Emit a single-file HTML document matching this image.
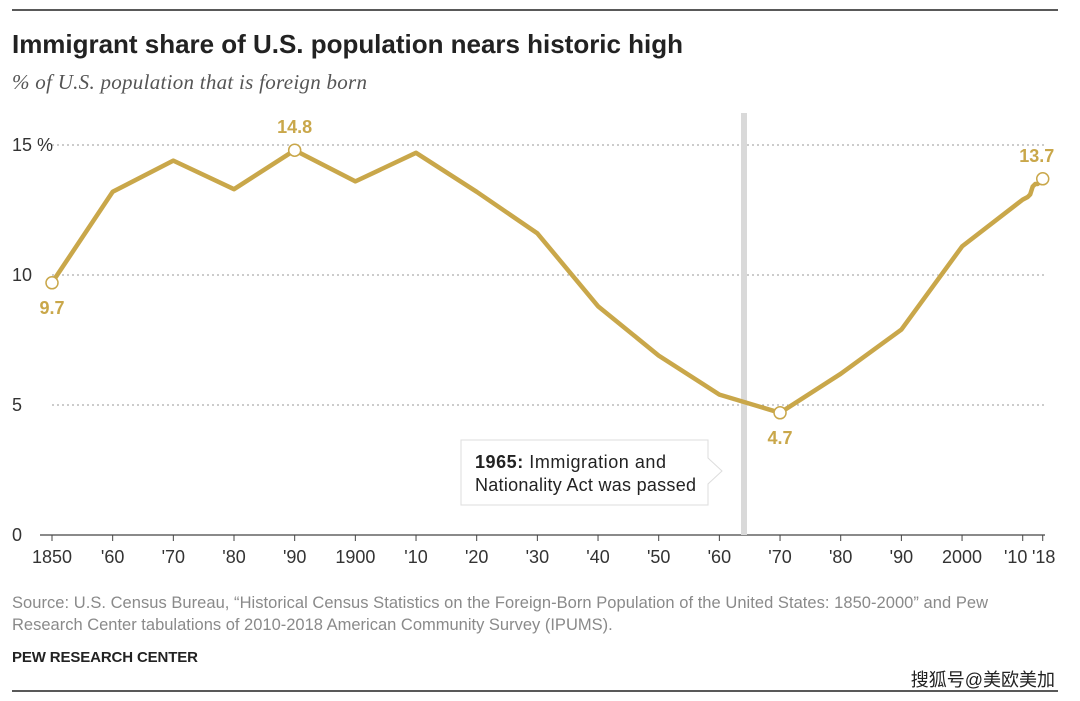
<!DOCTYPE html>
<html><head><meta charset="utf-8"><style>
body{margin:0;background:#fff;width:1080px;height:701px;overflow:hidden;font-family:"Liberation Sans",sans-serif;}
svg{display:block}
</style></head><body>
<svg id="c" width="1080" height="701">
<line x1="12" y1="10" x2="1058" y2="10" stroke="#222" stroke-width="1.5"/>
<text x="12" y="53" font-size="26" font-weight="bold" fill="#222" textLength="671">Immigrant share of U.S. population nears historic high</text>
<text x="12" y="89" font-size="21" font-style="italic" fill="#555" font-family="Liberation Serif, serif" textLength="355">% of U.S. population that is foreign born</text>
<g id="grid"></g>
<rect x="741" y="113" width="6" height="422" fill="#d9d9d9"/>
<g>
<path d="M461 440 H708 V458 L722 471 L708 484 V505 H461 Z" fill="#fff" stroke="#ddd"/>
<text x="475" y="468" font-size="18" fill="#222" textLength="191"><tspan font-weight="bold">1965:</tspan> Immigration and</text>
<text x="475" y="491" font-size="18" fill="#222" textLength="221">Nationality Act was passed</text>
</g>
<g id="plot"></g>
<text x="12" y="608" font-size="16.5" fill="#8a8a8a" textLength="976">Source: U.S. Census Bureau, “Historical Census Statistics on the Foreign-Born Population of the United States: 1850-2000” and Pew</text>
<text x="12" y="630" font-size="16.5" fill="#8a8a8a">Research Center tabulations of 2010-2018 American Community Survey (IPUMS).</text>
<text x="12" y="662" font-size="15" font-weight="bold" fill="#222" textLength="186">PEW RESEARCH CENTER</text>
<text x="1055" y="686" font-size="18" fill="#222" text-anchor="end" font-family="Liberation Sans, Noto Sans CJK SC, sans-serif">搜狐号@美欧美加</text>
<line x1="12" y1="691" x2="1058" y2="691" stroke="#222" stroke-width="1.5"/>
</svg>
<script>
const years=[1850,1860,1870,1880,1890,1900,1910,1920,1930,1940,1950,1960,1970,1980,1990,2000,2010,2012,2013,2014,2015,2016,2017,2018];
const shares=[9.7,13.2,14.4,13.3,14.8,13.6,14.7,13.2,11.6,8.8,6.9,5.4,4.7,6.2,7.9,11.1,12.9,13.0,13.1,13.4,13.5,13.5,13.6,13.7];
const yTicks=[0,5,10,15];
const yTickLabels=["0","5","10","15 %"];
const xTicks=[1850,1860,1870,1880,1890,1900,1910,1920,1930,1940,1950,1960,1970,1980,1990,2000,2010,2018];
const xTickLabels=["1850","'60","'70","'80","'90","1900","'10","'20","'30","'40","'50","'60","'70","'80","'90","2000","'10","'18"];
const labeled=[[1850,"9.7",1],[1890,"14.8",-1],[1970,"4.7",1],[2018,"13.7",-1]];
function x(yr){return yr<=2010?52+(yr-1850)*6.067:52+160*6.067+(yr-2010)*2.5;}
function y(v){return 535-v*26;}
const ns="http://www.w3.org/2000/svg";
const grid=document.getElementById('grid'),plot=document.getElementById('plot');
function mk(t,a,p){const e=document.createElementNS(ns,t);for(const k in a)e.setAttribute(k,a[k]);p.appendChild(e);return e;}
yTicks.forEach((v,i)=>{
 const l=mk('line',{x1:v===0?40:52,x2:1045,y1:y(v),y2:y(v),stroke:v===0?'#444':'#999','stroke-dasharray':v===0?'':'2,3','stroke-width':v===0?1.2:1},grid);
 
 
 const t=mk('text',{x:12,y:y(v)+6,'font-size':18,fill:'#333'},grid);t.textContent=yTickLabels[i];
 
 
});
xTicks.forEach((yr,i)=>{
 const t=mk('text',{x:x(yr),y:563,'font-size':18,fill:'#333','text-anchor':'middle'},grid);t.textContent=xTickLabels[i];
 if(yr===2010)t.setAttribute('x',x(yr)-7);
 if(yr===2018)t.setAttribute('x',x(yr)+1);
 
 
 const k=mk('line',{x1:x(yr),x2:x(yr),y1:535,y2:541,stroke:'#444'},grid);
 
 
});
const d=years.map((yr,i)=>(i?'L':'M')+x(yr).toFixed(1)+' '+y(shares[i]).toFixed(1)).join(' ');
const p=mk('path',{d:d,fill:'none',stroke:'#c9a74a','stroke-width':4.5,'stroke-linejoin':'round'},plot);


labeled.forEach(([yr,lab,dir])=>{
 const v=shares[years.indexOf(yr)];
 const c=mk('circle',{cx:x(yr),cy:y(v),r:6,fill:'#fff',stroke:'#c9a74a','stroke-width':1.5},plot);
 
 
 const t=mk('text',{x:x(yr)+(yr===2018?-6:0),y:dir>0?y(v)+31:y(v)-17,'font-size':18,'font-weight':'bold',fill:'#c9a74a','text-anchor':'middle'},plot);
 t.textContent=lab;
 
 
});
</script>
</body></html>
